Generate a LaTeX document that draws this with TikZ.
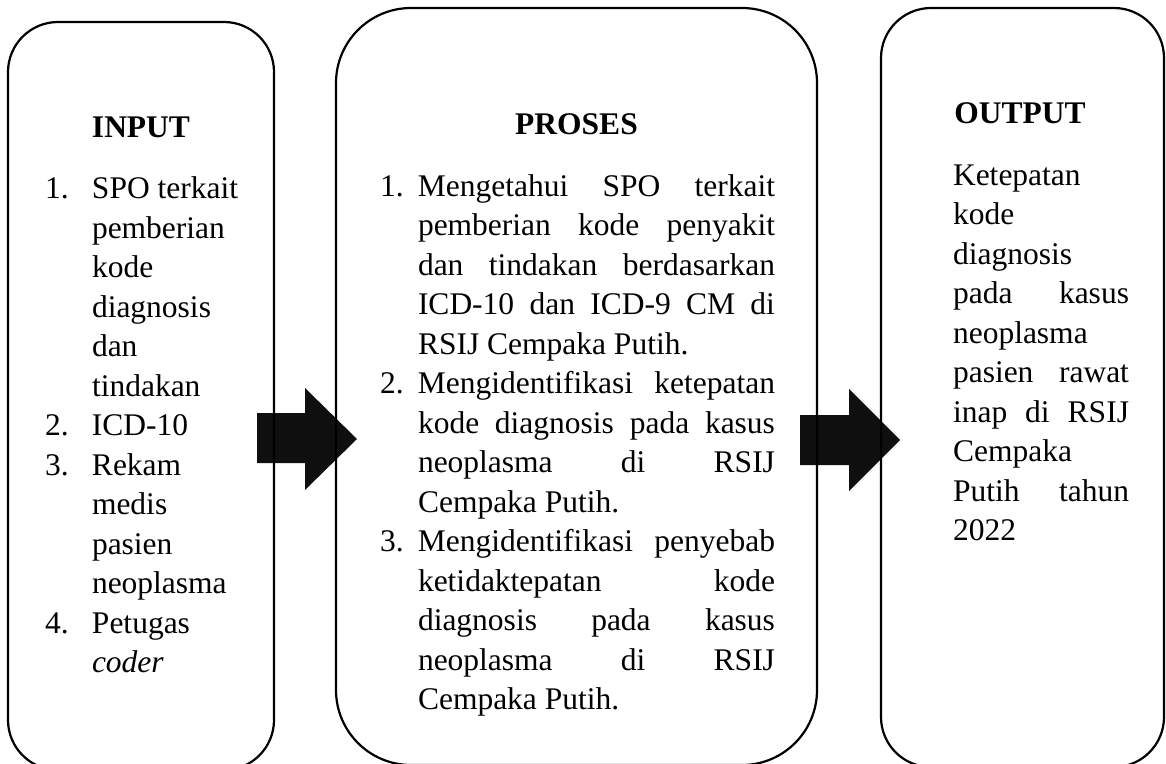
\documentclass[tikz,border=0pt]{standalone}
\usepackage{fontspec}
\setmainfont{Liberation Serif}
\newcommand\lnum[1]{\makebox[47pt][l]{#1}}
\newcommand\pnum[1]{\makebox[38pt][l]{#1}}
\newcommand\jline[2]{\hbox to #1{#2}}
\begin{document}
\begin{tikzpicture}[x=1pt,y=-1pt,
  stage/.style={draw=black, line width=2.2pt, rectangle, inner sep=0pt, outer sep=0pt},
  blockarrow/.style={fill=black!94, draw=none},
  txt/.style={inner sep=0pt, outer sep=0pt, anchor=base west, font=\fontsize{31.5}{39.5}\selectfont},
  ttl/.style={inner sep=0pt, outer sep=0pt, anchor=base, font=\fontsize{31.5}{39.5}\selectfont\bfseries}]
\useasboundingbox (0,0) rectangle (1166,763);
\clip (0,0) rectangle (1166,763);
% block arrows
\fill[blockarrow] (257,413) -- (305,413) -- (305,388) -- (357,439) -- (305,490) -- (305,463) -- (257,463) -- cycle;
\fill[blockarrow] (800,415) -- (849,415) -- (849,389) -- (900,440) -- (849,491) -- (849,465) -- (800,465) -- cycle;
% stage boxes
\node[stage, rounded corners=50pt, minimum width=266pt, minimum height=748pt] (input) at (141,396) {};
\node[stage, rounded corners=75pt, minimum width=481pt, minimum height=757pt] (proses) at (576.5,386.5) {};
\node[stage, rounded corners=50pt, minimum width=283pt, minimum height=759pt] (output) at (1022.5,387.5) {};
% titles
\node[ttl] (tin) at (141,137) {INPUT};
\node[ttl] (tpr) at (576.5,134) {PROSES};
\node[ttl] (tout) at (1020,123) {OUTPUT};
% INPUT list
\node[txt] (lin) at (45,198.5) {\vtop{%
  \hbox{\lnum{1.}SPO terkait}
  \hbox{\lnum{}pemberian}
  \hbox{\lnum{}kode}
  \hbox{\lnum{}diagnosis}
  \hbox{\lnum{}dan}
  \hbox{\lnum{}tindakan}
  \hbox{\lnum{2.}ICD-10}
  \hbox{\lnum{3.}Rekam}
  \hbox{\lnum{}medis}
  \hbox{\lnum{}pasien}
  \hbox{\lnum{}neoplasma}
  \hbox{\lnum{4.}Petugas}
  \hbox{\lnum{}\textit{coder}}}};
% PROSES list
\node[txt] (lpr) at (380,196) {\vtop{%
  \hbox{\pnum{1.}\jline{357pt}{Mengetahui\hfill SPO\hfill terkait}}
  \hbox{\pnum{}\jline{357pt}{pemberian\hfill kode\hfill penyakit}}
  \hbox{\pnum{}\jline{357pt}{dan\hfill tindakan\hfill berdasarkan}}
  \hbox{\pnum{}\jline{357pt}{ICD-10\hfill dan\hfill ICD-9\hfill CM\hfill di}}
  \hbox{\pnum{}RSIJ Cempaka Putih.}
  \hbox{\pnum{2.}\jline{357pt}{Mengidentifikasi\hfill ketepatan}}
  \hbox{\pnum{}\jline{357pt}{kode\hfill diagnosis\hfill pada\hfill kasus}}
  \hbox{\pnum{}\jline{357pt}{neoplasma\hfill di\hfill RSIJ}}
  \hbox{\pnum{}Cempaka Putih.}
  \hbox{\pnum{3.}\jline{357pt}{Mengidentifikasi\hfill penyebab}}
  \hbox{\pnum{}\jline{357pt}{ketidaktepatan\hfill kode}}
  \hbox{\pnum{}\jline{357pt}{diagnosis\hfill pada\hfill kasus}}
  \hbox{\pnum{}\jline{357pt}{neoplasma\hfill di\hfill RSIJ}}
  \hbox{\pnum{}Cempaka Putih.}}};
% OUTPUT text
\node[txt] (lout) at (953,185) {\vtop{%
  \hbox{Ketepatan}
  \hbox{kode}
  \hbox{diagnosis}
  \jline{176pt}{pada\hfill kasus}
  \hbox{neoplasma}
  \jline{176pt}{pasien\hfill rawat}
  \jline{176pt}{inap\hfill di\hfill RSIJ}
  \hbox{Cempaka}
  \jline{176pt}{Putih\hfill tahun}
  \hbox{2022}}};
\end{tikzpicture}
\end{document}
